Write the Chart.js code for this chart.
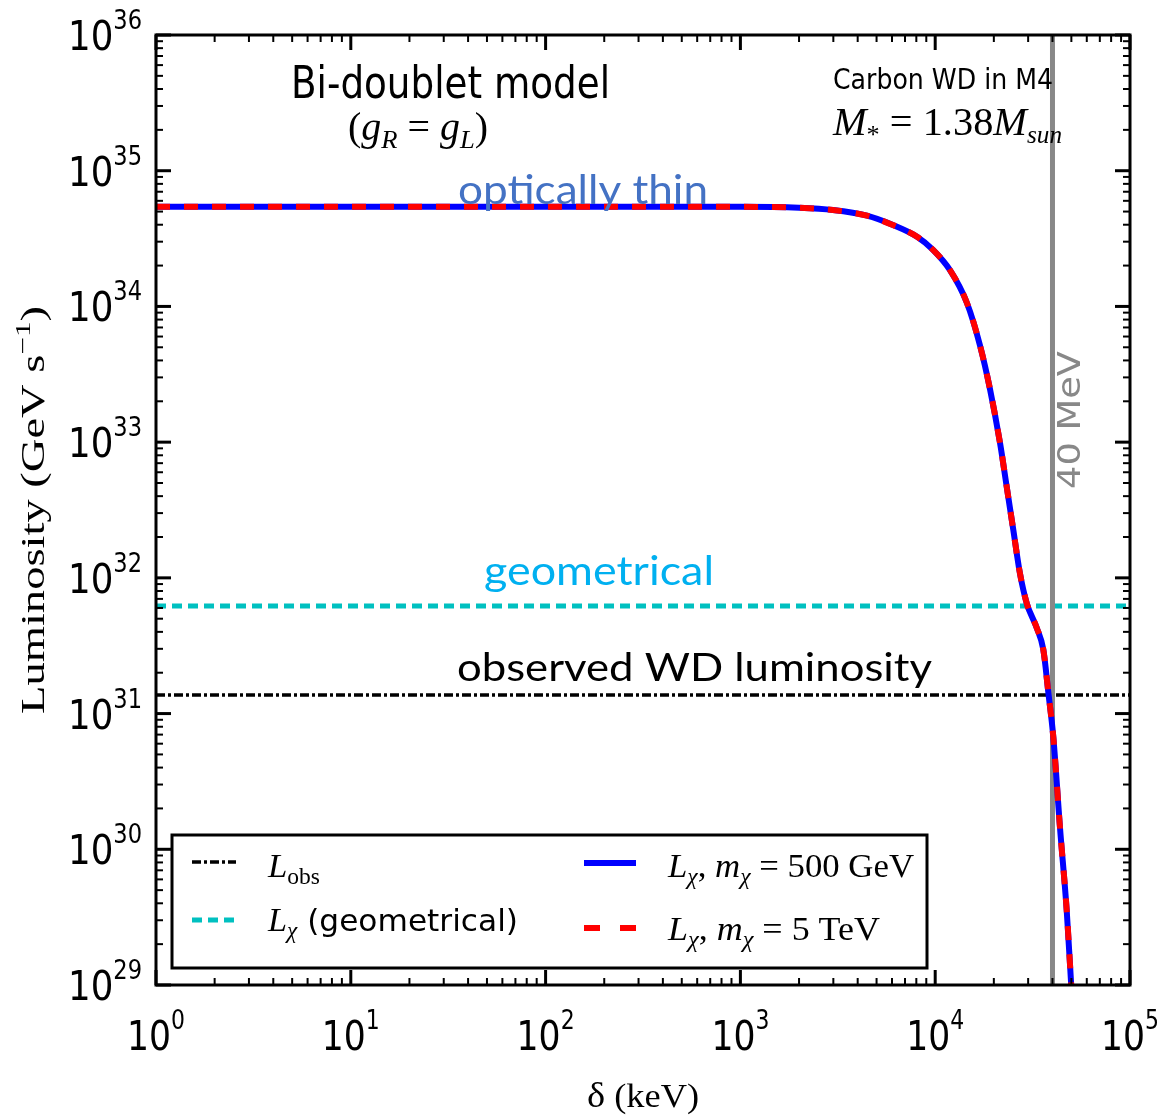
<!DOCTYPE html>
<html>
<head>
<meta charset="utf-8">
<title>Bi-doublet model luminosity</title>
<script src="https://cdn.jsdelivr.net/npm/chart.js@4"></script>
<style>
  html, body { margin: 0; padding: 0; background: #fff; }
  #wrap { width: 1160px; height: 1117px; position: relative; }
</style>
</head>
<body>
<div id="wrap"><canvas id="lum-chart"></canvas></div>
<script>
// mass splitting delta (keV) and DM luminosity (GeV/s)
const deltaKeV   = [1, 10, 100, 1000, 2000, 2985, 4467, 6067, 8072, 9750, 11912, 14555, 16982,
                    19099, 21528, 23281, 25177, 27227, 29512, 33189, 35892, 38107, 40365, 43752, 47315, 50119];
const lumi500GeV = [5.43e34, 5.43e34, 5.43e34, 5.42e34, 5.33e34, 5.13e34, 4.66e34, 3.98e34, 3.26e34,
                    2.61e34, 1.85e34, 1.06e34, 5.16e33, 2.47e33, 9.8e32, 4.70e32, 2.25e32, 1.08e32,
                    6.49e31, 4.29e31, 2.96e31, 1.42e31, 6.79e30, 1.42e30, 3.56e29, 9.0e28];
const lumi5TeV   = [5.43e34, 5.43e34, 5.43e34, 5.42e34, 5.33e34, 5.13e34, 4.66e34, 3.98e34, 3.26e34,
                    2.61e34, 1.85e34, 1.06e34, 5.16e33, 2.47e33, 9.8e32, 4.70e32, 2.25e32, 1.08e32,
                    6.49e31, 4.29e31, 2.96e31, 1.42e31, 6.79e30, 1.42e30, 3.56e29, 9.0e28];
const lumiGeom   = 6.2e31;     // geometrical capture limit
const lumiObs    = 1.37e31;    // observed WD luminosity
const cutKeV     = 40000;      // 40 MeV line

const xRange = [1, 1e5];
const yRange = [1e29, 1e36];
const xTickExps = [0, 1, 2, 3, 4, 5];
const yTickExps = [29, 30, 31, 32, 33, 34, 35, 36];

const toXY = (xs, ys) => xs.map((x, i) => ({ x: x, y: ys[i] }));

const SANS = '"DejaVu Sans"';
const SERIF = '"Liberation Serif"';
const NOTE = 'Lato';

// draw a row of text pieces, squeezed/stretched horizontally to a given width
function drawRuns(ctx, runs, x, y, width, align) {
  let natural = 0;
  runs.forEach(r => { ctx.font = r.f; r.w = ctx.measureText(r.t).width; natural += r.w; });
  const s = width ? width / natural : 1;
  const total = natural * s;
  const x0 = align === 'center' ? x - total / 2 : align === 'right' ? x - total : x;
  ctx.save();
  ctx.translate(x0, y);
  ctx.scale(s, 1);
  ctx.textAlign = 'left';
  ctx.textBaseline = 'alphabetic';
  let cx = 0;
  runs.forEach(r => {
    ctx.font = r.f;
    ctx.fillStyle = r.c || '#000';
    ctx.fillText(r.t, cx, r.dy || 0);
    cx += r.w;
  });
  ctx.restore();
}

function line(ctx, x1, y1, x2, y2) {
  ctx.beginPath();
  ctx.moveTo(x1, y1);
  ctx.lineTo(x2, y2);
  ctx.stroke();
}

// frame, inward ticks, tick labels, axis titles, annotations
const decorPlugin = {
  id: 'decor',
  afterDatasetsDraw(chart) {
    const ctx = chart.ctx;
    const a = chart.chartArea;
    const xs = chart.scales.x, ys = chart.scales.y;
    ctx.save();
    ctx.strokeStyle = '#000';
    ctx.lineCap = 'butt';

    // x ticks (bottom and top)
    for (let n = xTickExps[0]; n <= xTickExps[xTickExps.length - 1]; n++) {
      for (let k = 1; k <= 9; k++) {
        const v = k * Math.pow(10, n);
        if (v > xRange[1]) break;
        const px = xs.getPixelForValue(v);
        const len = k === 1 ? 15 : 7;
        ctx.lineWidth = k === 1 ? 3 : 2;
        line(ctx, px, a.bottom, px, a.bottom - len);
        line(ctx, px, a.top, px, a.top + len);
      }
    }
    // y ticks (left and right)
    for (let n = yTickExps[0]; n <= yTickExps[yTickExps.length - 1]; n++) {
      for (let k = 1; k <= 9; k++) {
        const v = k * Math.pow(10, n);
        if (v > yRange[1]) break;
        const py = ys.getPixelForValue(v);
        const len = k === 1 ? 15 : 7;
        ctx.lineWidth = k === 1 ? 3 : 2;
        line(ctx, a.left, py, a.left + len, py);
        line(ctx, a.right, py, a.right - len, py);
      }
    }
    // frame
    ctx.lineWidth = 3;
    ctx.strokeRect(a.left, a.top, a.right - a.left, a.bottom - a.top);

    // tick labels
    yTickExps.forEach(e => {
      const py = ys.getPixelForValue(Math.pow(10, e));
      drawRuns(ctx, [
        { t: '10', f: '41px ' + SANS },
        { t: String(e), f: '26px ' + SANS, dy: -21 }
      ], 142, py + 15, 74, 'right');
    });
    xTickExps.forEach(e => {
      const px = xs.getPixelForValue(Math.pow(10, e));
      drawRuns(ctx, [
        { t: '10', f: '41px ' + SANS },
        { t: String(e), f: '26px ' + SANS, dy: -21 }
      ], px, 1050, 58, 'center');
    });

    // axis titles
    drawRuns(ctx, [
      { t: 'δ', f: '36px ' + SERIF },
      { t: ' (keV)', f: '34px ' + SERIF }
    ], (a.left + a.right) / 2, 1107, 112, 'center');

    ctx.save();
    ctx.translate(44, (a.top + a.bottom) / 2);
    ctx.rotate(-Math.PI / 2);
    drawRuns(ctx, [
      { t: 'Luminosity (GeV s', f: '33px ' + SERIF },
      { t: '−1', f: '22px ' + SERIF, dy: -14 },
      { t: ')', f: '33px ' + SERIF }
    ], 0, 0, 408, 'center');
    ctx.restore();

    // annotations
    drawRuns(ctx, [{ t: 'Bi-doublet model', f: '44px ' + SANS }], 291, 98, 319, 'left');
    drawRuns(ctx, [
      { t: '(', f: '39px ' + SERIF },
      { t: 'g', f: 'italic 39px ' + SERIF },
      { t: 'R', f: 'italic 26px ' + SERIF, dy: 8 },
      { t: ' = ', f: '39px ' + SERIF },
      { t: 'g', f: 'italic 39px ' + SERIF },
      { t: 'L', f: 'italic 26px ' + SERIF, dy: 8 },
      { t: ')', f: '39px ' + SERIF }
    ], 348, 140, 140, 'left');

    drawRuns(ctx, [{ t: 'Carbon WD in M4', f: '29px ' + SANS }], 833, 89, 220, 'left');
    drawRuns(ctx, [
      { t: 'M', f: 'italic 40px ' + SERIF },
      { t: '*', f: '26px ' + SERIF, dy: 8 },
      { t: ' = 1.38', f: '40px ' + SERIF },
      { t: 'M', f: 'italic 40px ' + SERIF },
      { t: 'sun', f: 'italic 25px ' + SERIF, dy: 8 }
    ], 833, 135, 229, 'left');

    drawRuns(ctx, [{ t: 'optically thin', f: '40px ' + NOTE, c: '#4472C4' }], 458, 204, 250, 'left');
    drawRuns(ctx, [{ t: 'geometrical', f: '40px ' + NOTE, c: '#00B0F0' }], 484, 585, 230, 'left');
    drawRuns(ctx, [{ t: 'observed WD luminosity', f: '38px ' + NOTE, c: '#000' }], 457, 681, 475, 'left');

    ctx.save();
    ctx.translate(1080, 420);
    ctx.rotate(-Math.PI / 2);
    drawRuns(ctx, [{ t: '40 MeV', f: '32px ' + SANS, c: '#888888' }], 0, 0, 138, 'center');
    ctx.restore();

    ctx.restore();
  },
  afterDraw(chart) {
    // legend box
    const ctx = chart.ctx;
    ctx.save();
    ctx.fillStyle = '#fff';
    ctx.fillRect(172, 835, 755, 133);
    ctx.strokeStyle = '#000';
    ctx.lineWidth = 3;
    ctx.strokeRect(172, 835, 755, 133);

    ctx.lineCap = 'butt';
    // L_obs
    ctx.strokeStyle = '#000'; ctx.lineWidth = 3.5; ctx.setLineDash([9, 3, 3, 3]);
    line(ctx, 192, 862, 236, 862);
    // geometrical
    ctx.strokeStyle = '#00C0C0'; ctx.lineWidth = 5; ctx.setLineDash([10, 6]);
    line(ctx, 192, 920, 236, 920);
    // 500 GeV
    ctx.strokeStyle = '#0000FF'; ctx.lineWidth = 6; ctx.setLineDash([]);
    line(ctx, 584, 863, 636, 863);
    // 5 TeV
    ctx.strokeStyle = '#FF0000'; ctx.lineWidth = 6; ctx.setLineDash([16, 20]);
    line(ctx, 584, 928, 636, 928);
    ctx.setLineDash([]);

    drawRuns(ctx, [
      { t: 'L', f: 'italic 34px ' + SERIF },
      { t: 'obs', f: '23px ' + SERIF, dy: 7 }
    ], 268, 877, 52, 'left');
    drawRuns(ctx, [
      { t: 'L', f: 'italic 34px ' + SERIF },
      { t: 'χ', f: 'italic 23px ' + SERIF, dy: 7 },
      { t: ' (geometrical)', f: '31px ' + SANS }
    ], 268, 931, 250, 'left');
    drawRuns(ctx, [
      { t: 'L', f: 'italic 34px ' + SERIF },
      { t: 'χ', f: 'italic 23px ' + SERIF, dy: 7 },
      { t: ', ', f: '34px ' + SERIF },
      { t: 'm', f: 'italic 34px ' + SERIF },
      { t: 'χ', f: 'italic 23px ' + SERIF, dy: 7 },
      { t: ' = 500 GeV', f: '34px ' + SERIF }
    ], 668, 877, 246, 'left');
    drawRuns(ctx, [
      { t: 'L', f: 'italic 34px ' + SERIF },
      { t: 'χ', f: 'italic 23px ' + SERIF, dy: 7 },
      { t: ', ', f: '34px ' + SERIF },
      { t: 'm', f: 'italic 34px ' + SERIF },
      { t: 'χ', f: 'italic 23px ' + SERIF, dy: 7 },
      { t: ' = 5 TeV', f: '34px ' + SERIF }
    ], 668, 940, 212, 'left');
    ctx.restore();
  }
};

new Chart(document.getElementById('lum-chart'), {
  type: 'line',
  data: {
    datasets: [
      {
        label: 'L_chi, m_chi = 5 TeV',
        data: toXY(deltaKeV, lumi5TeV),
        borderColor: '#FF0000',
        borderWidth: 6,
        borderDash: [14, 14],
        cubicInterpolationMode: 'monotone',
        pointRadius: 0,
        order: 1
      },
      {
        label: 'L_chi, m_chi = 500 GeV',
        data: toXY(deltaKeV, lumi500GeV),
        borderColor: '#0000FF',
        borderWidth: 6,
        cubicInterpolationMode: 'monotone',
        pointRadius: 0,
        order: 2
      },
      {
        label: '40 MeV',
        data: [{ x: cutKeV, y: yRange[0] }, { x: cutKeV, y: yRange[1] }],
        borderColor: '#888888',
        borderWidth: 5,
        pointRadius: 0,
        order: 3
      },
      {
        label: 'L_obs',
        data: [{ x: xRange[0], y: lumiObs }, { x: xRange[1], y: lumiObs }],
        borderColor: '#000000',
        borderWidth: 3.5,
        borderDash: [9, 3, 3, 3],
        pointRadius: 0,
        order: 4
      },
      {
        label: 'L_chi (geometrical)',
        data: [{ x: xRange[0], y: lumiGeom }, { x: xRange[1], y: lumiGeom }],
        borderColor: '#00C0C0',
        borderWidth: 5,
        borderDash: [10, 6],
        pointRadius: 0,
        order: 5
      }
    ]
  },
  options: {
    responsive: true,
    maintainAspectRatio: false,
    animation: false,
    devicePixelRatio: 1,
    layout: { padding: { left: 156, top: 35, right: 30, bottom: 132 } },
    plugins: {
      legend: { display: false },
      tooltip: { enabled: false }
    },
    scales: {
      x: { type: 'logarithmic', min: xRange[0], max: xRange[1], display: false },
      y: { type: 'logarithmic', min: yRange[0], max: yRange[1], display: false }
    }
  },
  plugins: [decorPlugin]
});
</script>
</body>
</html>
